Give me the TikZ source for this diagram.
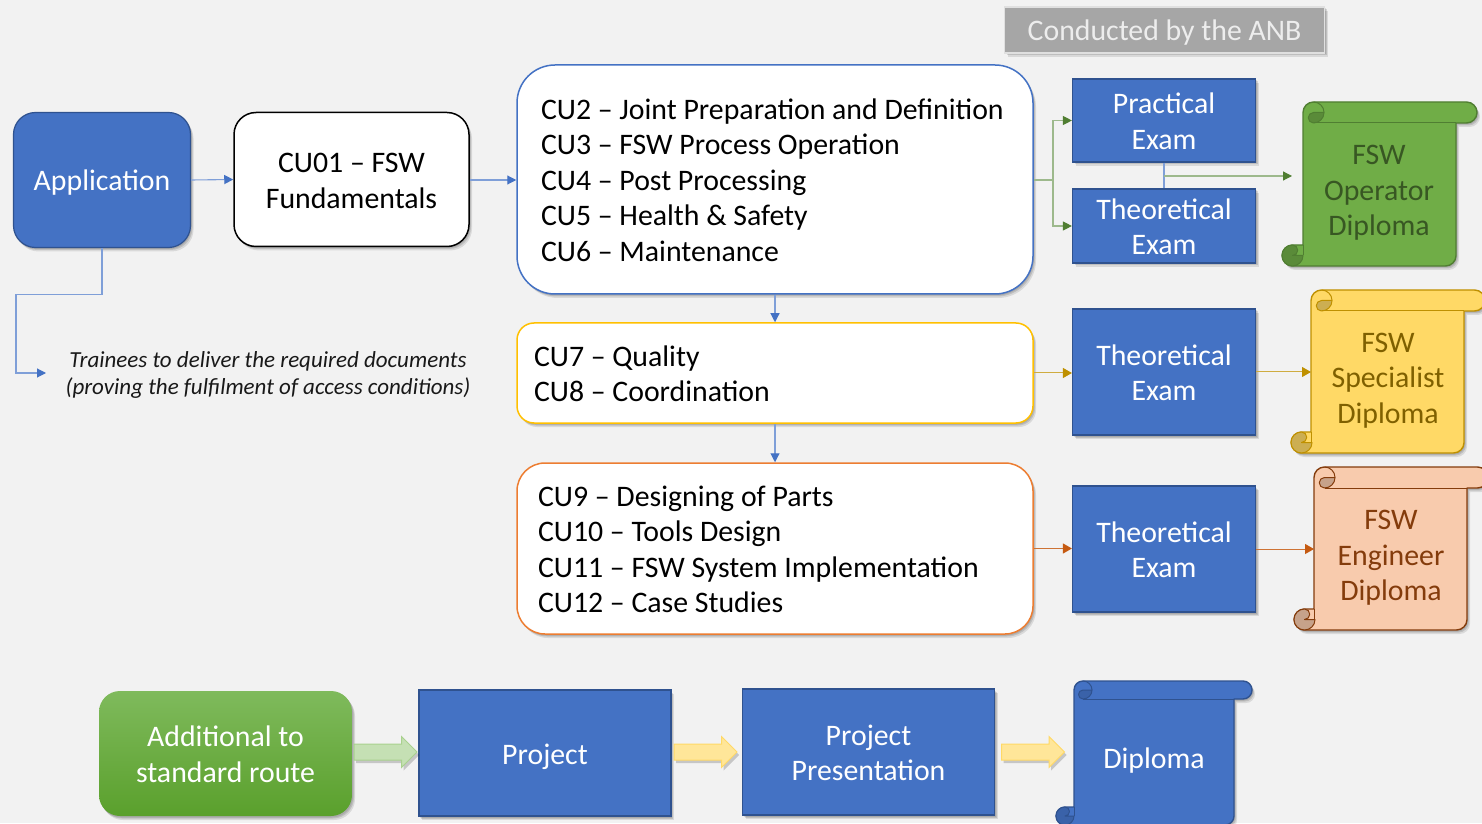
\documentclass[tikz,border=0pt]{standalone}
\usepackage{fontspec}
\setmainfont{Carlito}
\usetikzlibrary{arrows.meta,shadows,shapes.arrows}
\definecolor{bgc}{HTML}{F2F2F2}
\definecolor{bluef}{HTML}{4472C4}
\definecolor{blueb}{HTML}{2F528F}
\definecolor{bluel}{HTML}{7F9FD8}
\definecolor{bluedk}{HTML}{3A62A9}
\definecolor{greenf}{HTML}{70AD47}
\definecolor{greenb}{HTML}{507E32}
\definecolor{greendk}{HTML}{5A8B39}
\definecolor{greenl}{HTML}{9DB98C}
\definecolor{greent}{HTML}{385723}
\definecolor{goldb}{HTML}{BF9000}
\definecolor{yelf}{HTML}{FFD966}
\definecolor{yeldk}{HTML}{CCAE52}
\definecolor{yelt}{HTML}{7F6000}
\definecolor{orb}{HTML}{C55A11}
\definecolor{yelb}{HTML}{FFC000}
\definecolor{orl}{HTML}{ED7D31}
\definecolor{orf}{HTML}{F8CBAD}
\definecolor{ordb}{HTML}{843C0C}
\definecolor{ordk}{HTML}{C6A28A}
\definecolor{addtop}{HTML}{7FBA5C}
\definecolor{addbot}{HTML}{5AA02C}
\definecolor{arga}{HTML}{A9D18E}
\definecolor{argb}{HTML}{C5E0B4}
\definecolor{arya}{HTML}{FFD966}
\definecolor{aryb}{HTML}{FFE699}
\newcommand{\lb}[1]{\rule{0pt}{30pt}#1\rule[-8pt]{0pt}{0pt}}
\tikzset{
  softshadow/.style={
    general shadow={fill=black,opacity=.10,shadow xshift=1pt,shadow yshift=-1.5pt},
    general shadow={fill=black,opacity=.12,shadow xshift=2pt,shadow yshift=-2.5pt},
    general shadow={fill=black,opacity=.10,shadow xshift=3pt,shadow yshift=-4pt}},
  bigtxt/.style={font=\fontsize{29.8}{35.5}\selectfont,align=center},
  bluebox/.style={bigtxt,softshadow,draw=blueb,fill=bluef,line width=1.2pt,text=white,inner sep=0pt},
  cubox/.style={softshadow,fill=white,line width=1.5pt,text=black,inner ysep=0pt,align=flush left,font=\fontsize{29.8}{35.5}\selectfont},
  lnblue/.style={draw=bluel,line width=1.1pt,-{Triangle[length=9pt,width=9pt,color=bluef]}},
  plainblue/.style={draw=bluel,line width=1.1pt},
  lngreen/.style={draw=greenl,line width=1.2pt,-{Triangle[length=9pt,width=9pt,color=greenb]}},
  plaingreen/.style={draw=greenl,line width=1.2pt},
  lngold/.style={draw=goldb!75,line width=1pt,-{Triangle[length=9pt,width=10pt,color=goldb]}},
  lnor/.style={draw=orb!85,line width=1pt,-{Triangle[length=9pt,width=10pt,color=orb]}},
  blockarr/.style={shape=single arrow,draw=#1,minimum height=63pt,minimum width=30pt,text height=15pt,text depth=0pt,text width=0pt,single arrow head extend=7.5pt,single arrow head indent=0pt,inner sep=0pt,line width=1pt,
    general shadow={fill=black,opacity=.18,shadow xshift=2pt,shadow yshift=-3pt}},
  scrolltxt/.style={bigtxt,inner sep=0pt},
}
% fill, border, dark, x0, xl, xr, ytop, ybot, r
\newcommand{\drawscroll}[9]{%
  \pgfmathsetmacro{\Xa}{#4}\pgfmathsetmacro{\Xl}{#5}\pgfmathsetmacro{\Xr}{#6}
  \pgfmathsetmacro{\Yt}{823-#7}\pgfmathsetmacro{\Yb}{823-#8}\pgfmathsetmacro{\Rr}{#9}
  \pgfmathsetmacro{\Xe}{\Xr+2*\Rr}\pgfmathsetmacro{\Rh}{\Rr/2}
  \path[draw=#2,fill=#1,line width=1.4pt,line join=round,softshadow]
    (\Xa+\Rr,\Yb) -- (\Xr-\Rr,\Yb) arc[start angle=-90,end angle=0,radius=\Rr pt]
    -- (\Xr,\Yt-2*\Rr) -- (\Xe-\Rr,\Yt-2*\Rr) arc[start angle=-90,end angle=90,radius=\Rr pt]
    -- (\Xl+\Rr,\Yt) arc[start angle=90,end angle=180,radius=\Rr pt]
    -- (\Xl,\Yb+2*\Rr) -- (\Xa+\Rr,\Yb+2*\Rr) arc[start angle=90,end angle=270,radius=\Rr pt] -- cycle;
  \path[draw=#2,fill=#3,line width=1pt,line join=round]
    (\Xl+\Rr,\Yt-\Rr) arc[start angle=90,end angle=270,radius=\Rh pt]
    arc[start angle=-90,end angle=0,radius=\Rr pt] -- cycle;
  \draw[#2,line width=1pt] (\Xl+2*\Rr,\Yt-\Rr) arc[start angle=0,end angle=90,radius=\Rr pt];
  \draw[#2,line width=1pt] (\Xl+\Rr,\Yt-2*\Rr) -- (\Xr,\Yt-2*\Rr);
  \path[draw=#2,fill=#3,line width=1pt,line join=round]
    (\Xa+\Rr,\Yb+2*\Rr) arc[start angle=90,end angle=270,radius=\Rr pt]
    arc[start angle=-90,end angle=0,radius=\Rr pt] -- (\Xa+\Rr,\Yb+\Rr)
    arc[start angle=-90,end angle=90,radius=\Rh pt] -- cycle;
  \draw[#2,line width=1pt] (\Xl,\Yb+2*\Rr) -- (\Xl,\Yb+\Rr);
}
\begin{document}
\begin{tikzpicture}[x=1pt,y=1pt]
\path[use as bounding box,fill=bgc] (0,0) rectangle (1482,823);
% header
\node[bigtxt,softshadow,draw=white!88!black,fill=black!35,line width=1.5pt,text=white!93!black,minimum width=320pt,minimum height=46pt,inner sep=0pt] (anb) at (1164.5,823-30) {\lb{Conducted by the ANB}};
% top row
\node[bluebox,rounded corners=22pt,minimum width=177pt,minimum height=135pt] (app) at (102,823-180) {\lb{Application}};
\node[bigtxt,softshadow,draw=black,fill=white,line width=1.5pt,rounded corners=22pt,minimum width=235pt,minimum height=134pt,inner sep=0pt] (cu1) at (351.5,823-179.5) {\lb{CU01 – FSW\\Fundamentals}};
\node[cubox,draw=bluef,rounded corners=38pt,minimum height=229pt,inner xsep=24pt,text width=468pt] (cu2) at (775,823-179.5) {\lb{CU2 – Joint Preparation and Definition\\CU3 – FSW Process Operation\\CU4 – Post Processing\\CU5 – Health \& Safety\\CU6 – Maintenance}};
\node[cubox,draw=yelb,rounded corners=17pt,minimum height=100pt,inner xsep=17pt,text width=482pt] (cu7) at (775,823-373) {\lb{CU7 – Quality\\CU8 – Coordination}};
\node[cubox,draw=orl,rounded corners=28pt,minimum height=171pt,inner xsep=21pt,text width=474pt] (cu9) at (775,823-548.5) {\lb{CU9 – Designing of Parts\\CU10 – Tools Design\\CU11 – FSW System Implementation\\CU12 – Case Studies}};
% italic note
\node[font=\fontsize{23}{27}\selectfont\itshape,align=center,inner sep=0pt,text=black!90] (note) at (268,823-375) {Trainees to deliver the required documents\\(proving the fulfilment of access conditions)};
% exams
\node[bluebox,minimum width=183pt,minimum height=83pt] (prac) at (1164,823-120.5) {\lb{Practical\\Exam}};
\node[bluebox,minimum width=183pt,minimum height=74pt] (theoa) at (1164,823-226) {\lb{Theoretical\\Exam}};
\node[bluebox,minimum width=183pt,minimum height=126pt] (theob) at (1164,823-372) {\lb{Theoretical\\Exam}};
\node[bluebox,minimum width=183pt,minimum height=126pt] (theoc) at (1164,823-549) {\lb{Theoretical\\Exam}};
% scrolls
\drawscroll{greenf}{greenb}{greendk}{1282}{1303}{1456}{102}{266}{10.5}
\drawscroll{yelf}{goldb}{yeldk}{1291}{1311}{1464}{290}{453}{10.5}
\drawscroll{orf}{ordb}{ordk}{1294}{1314}{1467}{467}{630}{10.5}
\drawscroll{bluef}{blueb}{bluedk}{1056}{1074}{1234}{681}{825}{9}
\node[scrolltxt,text=greent] (dipg) at (1379,823-189.5) {\lb{FSW\\Operator\\Diploma}};
\node[scrolltxt,text=yelt] (dipy) at (1388,823-376.5) {\lb{FSW\\Specialist\\Diploma}};
\node[scrolltxt,text=ordb] (dipo) at (1391,823-554) {\lb{FSW\\Engineer\\Diploma}};
\node[scrolltxt,text=white] (dipb) at (1154,823-757) {\lb{Diploma}};
% bottom row
\node[bigtxt,softshadow,draw=none,top color=addtop,bottom color=addbot,text=white,rounded corners=21pt,minimum width=253pt,minimum height=125pt,inner sep=0pt] (add) at (225.5,823-753.5) {\lb{Additional to\\standard route}};
\node[bluebox,minimum width=252pt,minimum height=126pt] (proj) at (545,823-753) {\lb{Project}};
\node[bluebox,minimum width=252pt,minimum height=126pt] (pres) at (868.5,823-752) {\lb{Project\\Presentation}};
\node[blockarr=arga,fill=argb] (ara) at (381.5,823-752) {};
\node[blockarr=arya,fill=aryb] (arb) at (701.5,823-752) {};
\node[blockarr=arya,fill=aryb] (arc) at (1029,823-752) {};
% connector ends
\coordinate (noteend) at (46,823-373);
\coordinate (gend) at (1292,823-176);
\coordinate (gsrc) at (1164,823-176);
\coordinate (yin) at (1311,823-372);
\coordinate (oin) at (1314,823-549);
\coordinate (fork) at (1053,823-180);
% connectors
\draw[lnblue] (app.east) -- (cu1.west);
\draw[lnblue] (cu1.east |- app.east) -- (cu2.west |- app.east);
\draw[lnblue] (app.south) -- ++(0,-46) -| (16,823-373) -- (noteend);
\draw[lnblue] (cu2.south) -- (cu7.north);
\draw[lnblue] (cu7.south) -- (cu9.north);
\draw[plaingreen] (cu2.east |- fork) -- (fork);
\draw[lngreen] (fork) |- (prac.west);
\draw[lngreen] (fork) |- (theoa.west);
\draw[plainblue] (prac.south) -- (theoa.north);
\draw[lngreen] (gsrc) -- (gend);
\draw[lngold] (cu7.east) -- (theob.west |- cu7.east);
\draw[lngold] (theob.east) -- (yin);
\draw[lnor] (cu9.east) -- (theoc.west |- cu9.east);
\draw[lnor] (theoc.east) -- (oin);
\end{tikzpicture}
\end{document}
